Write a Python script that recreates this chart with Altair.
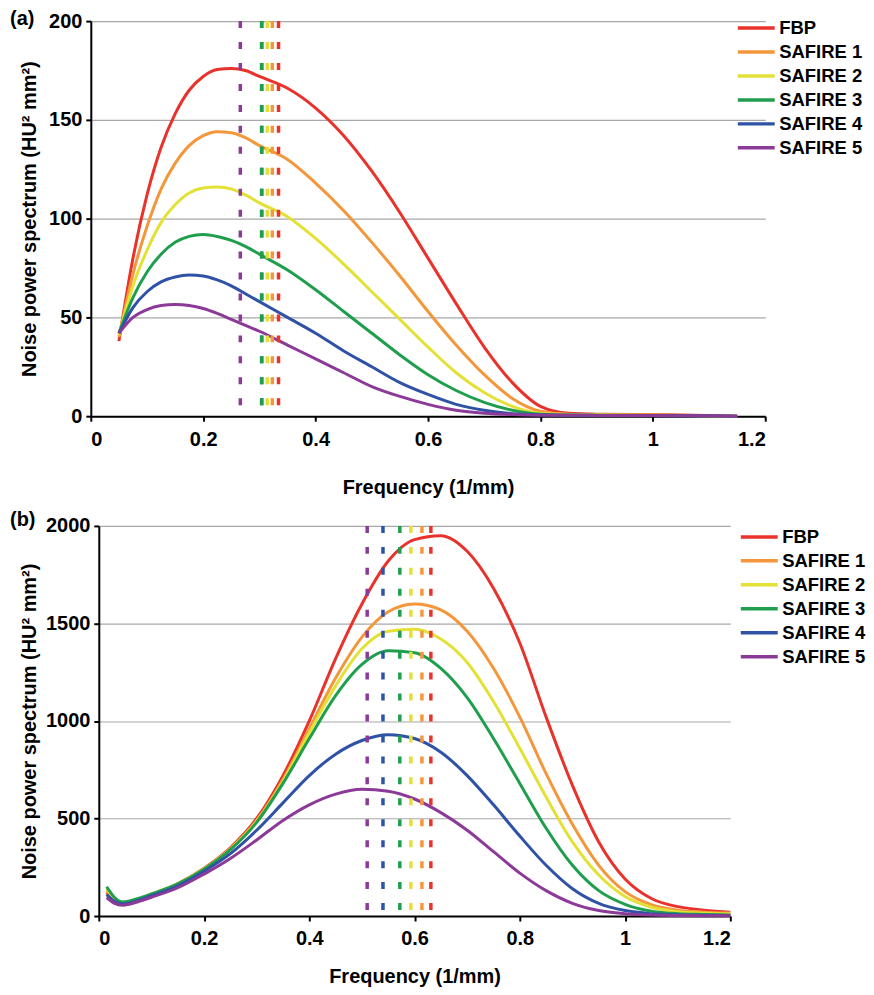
import altair as alt
import pandas as pd

series = ["FBP", "SAFIRE 1", "SAFIRE 2", "SAFIRE 3", "SAFIRE 4", "SAFIRE 5"]
colors = ["#e8322b", "#f4973b", "#e3e136", "#1f9e4e", "#2f52a6", "#8b3a98"]

# ---- panel (a) ----
freq_a = [0.05, 0.075, 0.1, 0.125, 0.15, 0.175, 0.2, 0.225, 0.25, 0.275, 0.3,
          0.35, 0.4, 0.45, 0.5, 0.55, 0.6, 0.65, 0.7, 0.75, 0.8, 0.85, 0.9,
          1.0, 1.1, 1.15]
nps_a_fbp = [38, 80, 112, 136, 153, 165, 172, 175.5, 176, 175, 172, 166, 156,
             142, 124, 103, 80, 57, 35, 17, 5, 1.5, 1, 0.8, 0.3, 0]
nps_a_s1 = [40, 72, 96, 115, 128, 137, 142, 144, 143.5, 141, 137, 130, 118,
            104, 88, 71, 53, 36, 21, 9, 2.5, 1, 0.8, 0.6, 0.2, 0]
nps_a_s2 = [41, 66, 84, 98, 107, 113, 115.5, 116, 115, 112, 108, 101, 90, 77,
            63, 49, 35, 22, 12, 5, 1.5, 0.8, 0.6, 0.5, 0.2, 0]
nps_a_s3 = [42, 60, 73, 82, 88, 91, 92, 91, 89, 86, 82, 74, 64, 53, 42, 31,
            21, 13, 7, 3, 1, 0.6, 0.5, 0.4, 0.2, 0]
nps_a_s4 = [42, 55, 63, 68, 70.5, 71.5, 71, 69, 66, 62, 58, 50, 42, 33, 25,
            17, 11, 6, 3, 1.3, 0.7, 0.5, 0.4, 0.3, 0.2, 0]
nps_a_s5 = [42, 50, 54, 56, 56.5, 56, 54.5, 52, 49, 46, 43, 36, 29, 22, 15,
            10, 6, 3, 1.5, 0.8, 0.5, 0.5, 0.4, 0.3, 0.2, 0]
cutoff_a = [0.334, 0.323, 0.314, 0.304, 0.304, 0.266]

# ---- panel (b) ----
freq_b = [0.015, 0.03, 0.045, 0.06, 0.08, 0.1, 0.15, 0.2, 0.25, 0.3, 0.35,
          0.4, 0.45, 0.5, 0.55, 0.6, 0.65, 0.7, 0.75, 0.8, 0.85, 0.9, 0.95,
          1.0, 1.05, 1.1, 1.15, 1.2]
nps_b_fbp = [120, 80, 65, 72, 88, 110, 165, 245, 350, 500, 720, 1000, 1320,
             1600, 1820, 1930, 1950, 1870, 1680, 1400, 1020, 670, 380, 190,
             90, 48, 30, 20]
nps_b_s1 = [130, 85, 68, 74, 90, 110, 165, 243, 345, 490, 700, 960, 1220,
            1430, 1560, 1600, 1570, 1460, 1270, 1020, 730, 470, 260, 125, 58,
            30, 20, 15]
nps_b_s2 = [140, 90, 70, 76, 92, 112, 165, 242, 343, 485, 690, 940, 1180,
            1370, 1460, 1470, 1420, 1300, 1100, 860, 610, 380, 210, 100, 45,
            22, 14, 10]
nps_b_s3 = [150, 95, 72, 78, 94, 113, 165, 240, 340, 480, 680, 910, 1130,
            1290, 1360, 1350, 1270, 1120, 910, 680, 450, 260, 130, 60, 25, 12,
            8, 5]
nps_b_s4 = [110, 75, 62, 68, 84, 104, 155, 230, 320, 440, 580, 720, 830, 900,
            930, 910, 840, 720, 570, 410, 260, 140, 65, 28, 12, 6, 4, 3]
nps_b_s5 = [95, 65, 55, 62, 78, 96, 145, 215, 295, 390, 490, 570, 625, 650,
            640, 600, 530, 440, 330, 220, 130, 65, 28, 12, 5, 3, 2, 1]
cutoff_b = [0.631, 0.614, 0.593, 0.572, 0.540, 0.510]

FONT = "Liberation Sans"
rule_order = ["FBP", "SAFIRE 1", "SAFIRE 2", "SAFIRE 4", "SAFIRE 3", "SAFIRE 5"]
LINE_SYMBOL = "M-2,0H2"


def long_df(freq, cols):
    rows = []
    for name, vals in zip(series, cols):
        for f, v in zip(freq, vals):
            rows.append({"f": f, "v": v, "s": name})
    return pd.DataFrame(rows)


def panel(freq, cols, cutoffs, ymax, ystep, w, h, shift, label, lx, ly,
          tag_x, tag_y, title_x, x_title_pad):
    df = long_df(freq, cols)
    cut = pd.DataFrame({"f": cutoffs, "s": series})
    cut["k"] = [rule_order.index(s) for s in series]
    cut = cut.sort_values("k")
    color = alt.Color(
        "s:N",
        scale=alt.Scale(domain=series, range=colors),
        sort=series,
        legend=alt.Legend(
            title=None, orient="none", legendX=lx, legendY=ly,
            symbolType=LINE_SYMBOL, symbolSize=342, symbolStrokeWidth=3.5,
            labelFont=FONT, labelFontSize=18.5, labelFontWeight="bold",
            labelColor="black", rowPadding=3, padding=0, labelOffset=12,
        ),
    )
    xenc = alt.X(
        "f:Q",
        scale=alt.Scale(domain=[0, 1.2], nice=False, range=[-shift, w]),
        axis=alt.Axis(
            values=[0, 0.2, 0.4, 0.6, 0.8, 1.0, 1.2], format="~g",
            title="Frequency (1/mm)", grid=False, titlePadding=x_title_pad,
        ),
    )
    yenc = alt.Y(
        "v:Q",
        scale=alt.Scale(domain=[0, ymax], nice=False),
        axis=alt.Axis(
            values=list(range(0, ymax + 1, ystep)), format="d",
            title="Noise power spectrum (HU² mm²)", grid=True,
            titleX=title_x, titleBaseline="middle", offset=shift,
        ),
    )
    lines = alt.Chart(df).mark_line(strokeWidth=3, interpolate="monotone").encode(
        x=xenc, y=yenc, color=color
    )
    rules = alt.Chart(cut).mark_rule(strokeWidth=3.5, strokeDash=[7, 14]).encode(
        x=alt.X("f:Q"), color=alt.Color("s:N", legend=None,
                                         scale=alt.Scale(domain=series, range=colors))
    )
    tag = alt.Chart(pd.DataFrame({"t": [label]})).mark_text(
        font=FONT, fontSize=20, fontWeight="bold", align="left",
        baseline="middle", color="black",
    ).encode(text="t:N", x=alt.value(tag_x), y=alt.value(tag_y))
    return alt.layer(lines, rules, tag).properties(width=w, height=h)


# top panel: plot origin shared with bottom (x=99 on page); drawn 8px further left
top = panel(freq_a, [nps_a_fbp, nps_a_s1, nps_a_s2, nps_a_s3, nps_a_s4, nps_a_s5],
            cutoff_a, 200, 50, 668, 396, 8, "(a)", 648, -4, -89, -2, -61, 28)
bottom = panel(freq_b, [nps_b_fbp, nps_b_s1, nps_b_s2, nps_b_s3, nps_b_s4, nps_b_s5],
               cutoff_b, 2000, 500, 633, 391, 0, "(b)", 651, 0, -89, -6, -69, 18)

chart = alt.ConcatChart(
    concat=[top, bottom], columns=1, spacing=13
).resolve_scale(
    color="independent"
).resolve_legend(color="independent").properties(
    padding={"left": 2, "top": 0, "right": 0, "bottom": 0}
).configure_view(stroke=None).configure_axis(
    labelFont=FONT, labelFontSize=20, labelFontWeight="bold", labelColor="black",
    titleFont=FONT, titleFontSize=20, titleFontWeight="bold", titleColor="black",
    domainColor="black", domainWidth=2, tickColor="black", tickWidth=2,
    tickSize=5, gridColor="#a8a8a8", gridWidth=1.2,
).configure_axisX(labelPadding=8).configure_axisY(labelPadding=4)

chart.save("out.html", embed_options={"renderer": "svg", "actions": False})
